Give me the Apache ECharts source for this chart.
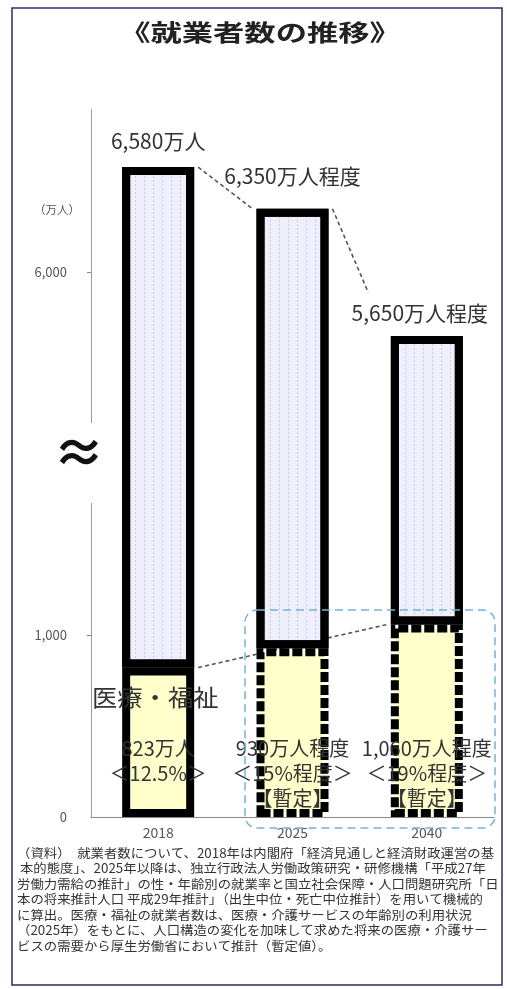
<!DOCTYPE html>
<html>
<head>
<meta charset="utf-8">
<script src="https://cdn.jsdelivr.net/npm/echarts@6.0.0/dist/echarts.min.js"></script>
<style>
  html, body { margin: 0; padding: 0; background: #fff; }
  #mainChart { width: 507px; height: 989px; }
</style>
</head>
<body>
<div id="mainChart"></div>
<script>
var years = ['2018', '2025', '2040'];
var totalWorkers = [6580, 6350, 5650];
var welfareWorkers = [823, 930, 1060];
var totalLabels = ['6,580万人', '6,350万人程度', '5,650万人程度'];
var welfareLabels = [
    ['823万人', '＜12.5%＞'],
    ['930万人程度', '＜15%程度＞', '【暫定】'],
    ['1,060万人程度', '＜19%程度＞', '【暫定】']
];
var yTickValues = [0, 1000, 6000];
var yBreak = {start: 2000, end: 5000};
var notes = [
    '（資料）　就業者数について、2018年は内閣府「経済見通しと経済財政運営の基',
    ' 本的態度」、2025年以降は、独立行政法人労働政策研究・研修機構「平成27年',
    '労働力需給の推計」の性・年齢別の就業率と国立社会保障・人口問題研究所「日',
    '本の将来推計人口 平成29年推計」（出生中位・死亡中位推計）を用いて機械的',
    'に算出。医療・福祉の就業者数は、医療・介護サービスの年齢別の利用状況',
    '（2025年）をもとに、人口構造の変化を加味して求めた将来の医療・介護サー',
    'ビスの需要から厚生労働省において推計（暫定値）。'
];

// label placement tweaks (style only)
var topLabelDistance = [16, 22, 12];
var topLabelOffset = [[0, 0], [0, 0], [-7, 0]];
var BAR_W = 72, BORDER = 8;

var FONT = '"Noto Sans CJK JP", "Noto Sans", sans-serif';

var upperValues = [];
for (var i = 0; i < totalWorkers.length; i++) {
    upperValues.push({
        value: totalWorkers[i] - welfareWorkers[i],
        label: {distance: topLabelDistance[i], offset: topLabelOffset[i]}
    });
}
var lowerValues = [];
for (var i = 0; i < welfareWorkers.length; i++) {
    lowerValues.push({
        value: welfareWorkers[i],
        itemStyle: {borderType: i === 0 ? 'solid' : [10, 3]},
        label: {distance: 6 + (3 - welfareLabels[i].length) * 25}
    });
}

// dashed connectors: [fromIdx, fromVal, toIdx, toVal, reach]
var connectors = [
    [0, totalWorkers[0], 1, totalWorkers[1], 1],
    [1, totalWorkers[1], 2, totalWorkers[2], 0.66],
    [0, welfareWorkers[0], 2, welfareWorkers[2], 1]
];

var myChart = echarts.init(document.getElementById('mainChart'));
myChart.setOption({
    animation: false,
    textStyle: {fontFamily: FONT},
    grid: {left: 91, right: 13, top: 109, bottom: 172},
    xAxis: {
        type: 'category',
        data: years,
        axisLine: {lineStyle: {color: '#888', width: 1}},
        axisTick: {show: false},
        axisLabel: {color: '#555', fontSize: 14, margin: 9}
    },
    yAxis: {
        type: 'value',
        min: 0,
        max: 6900,
        breaks: [{start: yBreak.start, end: yBreak.end, gap: 0}],
        breakArea: {show: false},
        axisLine: {show: true, lineStyle: {color: '#999', width: 1}},
        axisTick: {show: true, length: 4, customValues: [1000, 6000], lineStyle: {color: '#888'}},
        axisLabel: {
            customValues: yTickValues,
            color: '#555',
            fontSize: 13,
            margin: 24,
            formatter: function (v) { return v.toLocaleString('en-US'); }
        },
        splitLine: {show: false}
    },
    series: [{
        type: 'custom',
        z: 1,
        encode: {x: [0, 2], y: [1, 3]},
        data: connectors,
        renderItem: function (params, api) {
            var half = (BAR_W + BORDER) / 2;
            var p1 = api.coord([api.value(0), api.value(1)]);
            var p2 = api.coord([api.value(2), api.value(3)]);
            var x1 = p1[0] + half, y1 = p1[1];
            var x2 = p2[0] - half, y2 = p2[1];
            var r = api.value(4);
            return {
                type: 'line',
                shape: {x1: x1, y1: y1, x2: x1 + (x2 - x1) * r, y2: y1 + (y2 - y1) * r},
                style: {stroke: '#555', lineWidth: 1.6, lineDash: [4, 3]}
            };
        }
    }, {
        name: '医療・福祉',
        type: 'bar',
        stack: 'total',
        z: 3,
        barWidth: BAR_W,
        data: lowerValues,
        itemStyle: {color: '#ffffcc', borderColor: '#000', borderWidth: BORDER},
        label: {
            show: true,
            position: 'insideBottom',
            color: '#333',
            fontSize: 20,
            lineHeight: 25,
            formatter: function (p) { return welfareLabels[p.dataIndex].join('\n'); }
        }
    }, {
        name: '就業者数',
        type: 'bar',
        stack: 'total',
        z: 3,
        barWidth: BAR_W,
        data: upperValues,
        itemStyle: {
            color: '#efeffb',
            borderColor: '#000',
            borderWidth: BORDER,
            decal: {
                symbol: 'rect',
                symbolSize: 1,
                color: 'rgba(160,160,210,0.45)',
                dashArrayX: [1, 8],
                dashArrayY: [2, 2]
            }
        },
        label: {
            show: true,
            position: 'top',
            color: '#333',
            fontSize: 21,
            formatter: function (p) { return totalLabels[p.dataIndex]; }
        }
    }],
    graphic: [{
        type: 'rect',
        shape: {x: 12, y: 8, width: 490, height: 977},
        style: {fill: 'none', stroke: '#2b2b66', lineWidth: 1.5},
        silent: true
    }, {
        type: 'text',
        x: 260, y: 32,
        scaleX: 1.36,
        style: {
            text: '《就業者数の推移》',
            font: 'bold 23px ' + FONT,
            fill: '#222',
            textAlign: 'center',
            textVerticalAlign: 'middle'
        }
    }, {
        type: 'text',
        x: 57, y: 210,
        style: {
            text: '（万人）',
            font: '11.5px ' + FONT,
            fill: '#555',
            textAlign: 'center',
            textVerticalAlign: 'middle'
        }
    }, {
        type: 'rect',
        z: 50,
        shape: {x: 84, y: 423, width: 14, height: 80},
        style: {fill: '#fff'}
    }, {
        type: 'text',
        z: 51,
        x: 79, y: 452,
        style: {
            text: '≈',
            font: 'bold 52px ' + FONT,
            fill: '#111',
            textAlign: 'center',
            textVerticalAlign: 'middle'
        }
    }, {
        type: 'text',
        z: 60,
        x: 92, y: 697,
        scaleX: 1.1,
        style: {
            text: '医療・福祉',
            font: '23px ' + FONT,
            fill: '#333',
            textAlign: 'left',
            textVerticalAlign: 'middle'
        }
    }, {
        type: 'rect',
        z: 40,
        shape: {x: 245, y: 610, width: 250, height: 218, r: 12},
        style: {fill: 'none', stroke: '#72b4d6', lineWidth: 1.5, lineDash: [8, 5]}
    }, {
        type: 'text',
        x: 17, y: 845,
        scaleX: 1.07,
        style: {
            text: notes.join('\n'),
            font: '12.5px ' + FONT,
            lineHeight: 15.5,
            fill: '#333',
            textAlign: 'left',
            textVerticalAlign: 'top'
        }
    }]
});
</script>
</body>
</html>
